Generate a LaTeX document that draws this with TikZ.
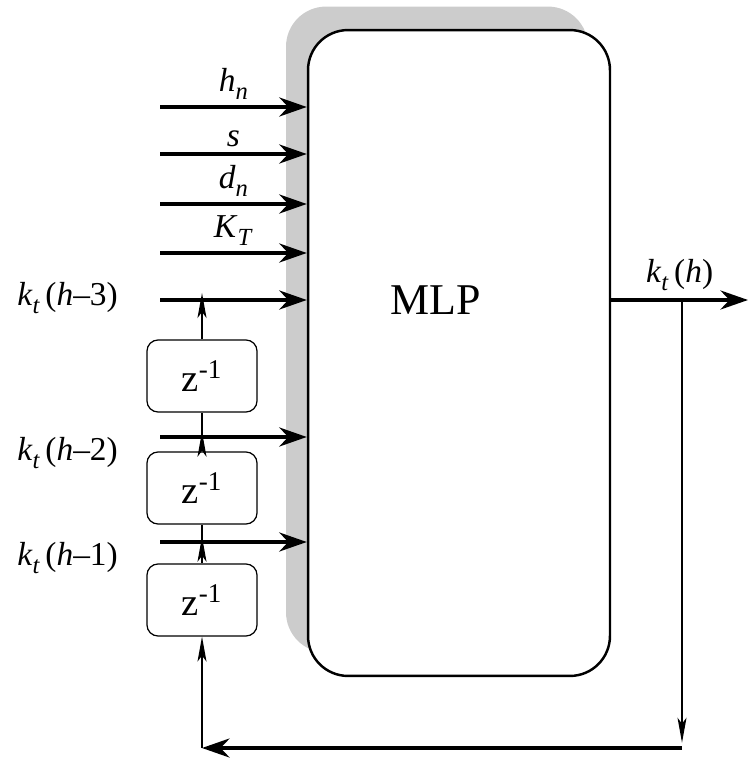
\documentclass[tikz,border=0pt]{standalone}
\usepackage{fontspec}
\setmainfont{Liberation Serif}
\usetikzlibrary{arrows.meta,positioning,shadows}
\newcommand{\lowsub}[1]{\raisebox{-0.55ex}{\fontsize{14}{14}\selectfont\textit{#1}}}
\newcommand{\kt}[1]{\textit{k}\lowsub{t}\,(\textit{h}#1)}

\begin{document}
\begin{tikzpicture}[x=0.02cm,y=-0.02cm,every node/.style={font=\fontsize{19}{21}\selectfont},
  mlpbox/.style={draw,line width=1.4pt,rounded corners=0.8cm,minimum width=6.04cm,minimum height=12.92cm,fill=white,
    drop shadow={shadow xshift=-0.44cm,shadow yshift=0.47cm,fill=black!20,opacity=1}},
  delay/.style={draw,line width=0.7pt,rounded corners=0.22cm,minimum width=2.2cm,minimum height=1.44cm,fill=white,font=\fontsize{22}{24}\selectfont},
  arr/.style={-{Stealth[length=5.5mm,width=3.8mm,inset=1.8mm]},line width=2.2pt},
  fb/.style={-{Stealth[length=5mm,width=1.8mm,inset=1.2mm]},line width=0.8pt}]
\useasboundingbox (0,0) rectangle (750,760);
\node[mlpbox] (mlp) at (459,353) {};
\node[font=\fontsize{25}{27}\selectfont] (mlptxt) at (436,300) {MLP};
% delay line
\node[delay] (z1) at (202,376) {z\textsuperscript{-1}};
\node[delay] (z2) at (202,488) {z\textsuperscript{-1}};
\node[delay] (z3) at (202,600) {z\textsuperscript{-1}};
% inputs
\foreach \y/\lab [count=\i] in {107/{\textit{h}\lowsub{n}},154/{\textit{s}},204/{\textit{d}\lowsub{n}},253/{\textit{K}\lowsub{T}}}
  \draw[arr] (160,\y) coordinate (in\i) -- (in\i -| mlp.west) node[midway,above,inner sep=3pt] {\lab};
\foreach \y/\i in {300/5,437/6,542/7}
  \draw[arr] (160,\y) coordinate (in\i) -- (in\i -| mlp.west);
\node[anchor=east] (lab5) at (124,298) {\kt{–3}};
\node[anchor=east] (lab6) at (124,453) {\kt{–2}};
\node[anchor=east] (lab7) at (124,558) {\kt{–1}};
\coordinate (t5) at (in5 -| z1.north);
\coordinate (t6) at (in6 -| z2.north);
\coordinate (t7) at (in7 -| z3.north);
\draw[fb] (z1.north) -- ([yshift=4pt]t5);
\draw[fb] (z2.north) -- ([yshift=3pt]t6);
\draw[line width=0.8pt] (t6) -- (z1.south);
\draw[fb] (z3.north) -- ([yshift=3pt]t7);
\draw[line width=0.8pt] (t7) -- (z2.south);
% output and feedback
\coordinate (o) at (748,300);
\coordinate (br) at (682,300);
\coordinate (bot) at (682,748);
\coordinate (bl) at (202,748);
\draw[arr] (mlp.east |- o) -- (o) node[midway,above,inner sep=4pt] {\kt{}};
\draw[fb] (br) -- ([yshift=3pt]bot);
\draw[arr] (bot) -- (bl);
\draw[fb] (bl) -- (z3.south);
\end{tikzpicture}
\end{document}
